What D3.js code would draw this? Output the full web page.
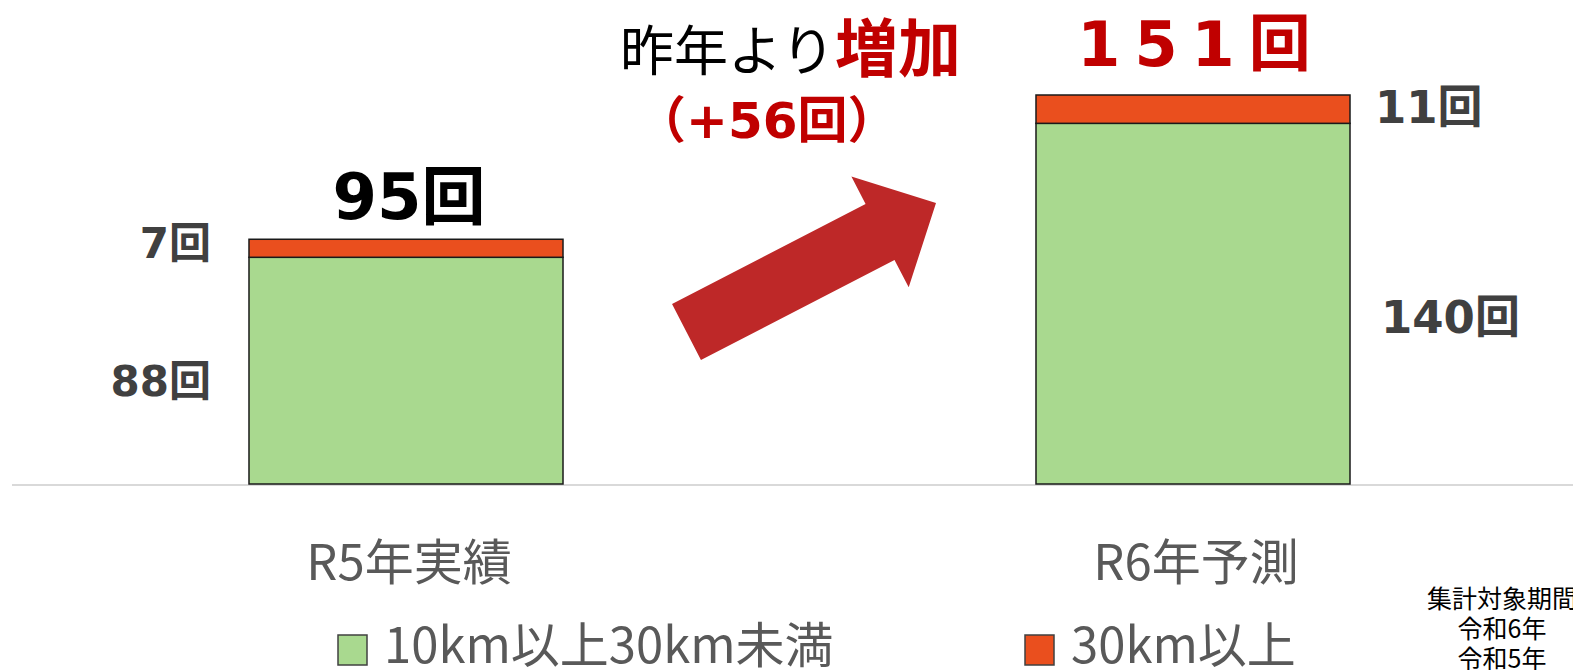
<!DOCTYPE html>
<html lang="ja">
<head>
<meta charset="utf-8">
<script src="https://cdn.jsdelivr.net/npm/d3@7"></script>
<style>
  html, body { margin: 0; padding: 0; background: #fff; overflow: hidden; }
  svg { display: block; }
</style>
</head>
<body>
<svg id="chart" width="1573" height="670"></svg>
<script>
// Yearly counts, split by distance band
const categories = ["R5年実績", "R6年予測"];
const under30 = [88, 140];   // 10km以上30km未満
const over30 = [7, 11];      // 30km以上
const seriesNames = ["10km以上30km未満", "30km以上"];
const seriesColors = ["#a9d98f", "#ea4f1e"];
const noteLines = ["集計対象期間", "令和6年", "令和5年"];

const W = 1573, H = 670;
const svg = d3.select("#chart");
svg.append("rect").attr("width", W).attr("height", H).attr("fill", "#fff");

const CJK = "'Noto Sans CJK JP', 'Noto Sans', sans-serif";
const NUM = "'DejaVu Sans', 'Noto Sans CJK JP', sans-serif";

const rows = categories.map((c, i) => ({ cat: c, under: under30[i], over: over30[i], total: under30[i] + over30[i] }));
const stack = d3.stack().keys(["under", "over"])(rows);

const x = d3.scaleBand().domain(categories).range([12.5, 1586.5]).paddingInner(0.601).paddingOuter(0.3005);
const y = d3.scaleLinear().domain([0, d3.max(rows, d => d.total)]).range([484, 95]);

// baseline
svg.append("line")
  .attr("x1", 12).attr("x2", W).attr("y1", y(0) + 1).attr("y2", y(0) + 1)
  .attr("stroke", "#d9d9d9").attr("stroke-width", 2);

// stacked bars
stack.forEach((layer, li) => {
  svg.append("g").selectAll("rect").data(layer).join("rect")
    .attr("x", d => x(d.data.cat))
    .attr("width", x.bandwidth())
    .attr("y", d => y(d[1]))
    .attr("height", d => y(d[0]) - y(d[1]))
    .attr("fill", seriesColors[li])
    .attr("stroke", "#1a1a1a")
    .attr("stroke-width", 1.5);
});

// segment value labels: left of the first bar, right of the second
stack.forEach(layer => {
  layer.forEach((d, i) => {
    const v = d[1] - d[0];
    const mid = (y(d[0]) + y(d[1])) / 2;
    const left = i === 0;
    svg.append("text")
      .attr("x", left ? x(d.data.cat) - 38 : x(d.data.cat) + x.bandwidth() + (layer.key === "under" ? 31 : 25))
      .attr("y", mid + (layer.key === "under" ? (left ? 25 : 29) : (left ? 10 : 14)))
      .attr("text-anchor", left ? "end" : "start")
      .attr("font-family", NUM)
      .attr("font-weight", "bold")
      .attr("font-size", left ? 42 : 45)
      .attr("fill", "#404040")
      .text(v + "回");
  });
});

// totals above the bars
svg.append("text")
  .attr("x", x(categories[0]) + x.bandwidth() / 2 + 3)
  .attr("y", y(rows[0].total) - 20)
  .attr("text-anchor", "middle")
  .attr("font-family", NUM).attr("font-weight", "bold").attr("font-size", 64)
  .attr("fill", "#000")
  .text(rows[0].total + "回");

svg.append("text")
  .attr("x", x(categories[1]) + x.bandwidth() / 2 + 8)
  .attr("y", y(rows[1].total) - 29)
  .attr("text-anchor", "middle")
  .attr("font-family", NUM).attr("font-weight", "bold").attr("font-size", 62)
  .attr("letter-spacing", 14)
  .attr("fill", "#c00000")
  .text(rows[1].total + "回");

// change annotation
const diff = rows[1].total - rows[0].total;
const ann = svg.append("text").attr("x", 620).attr("y", 71).attr("font-family", CJK);
ann.append("tspan").attr("font-size", 54).attr("fill", "#000").text("昨年より");
ann.append("tspan").attr("font-size", 63).attr("font-weight", "bold").attr("fill", "#c00000").text("増加");
svg.append("text")
  .attr("x", 636).attr("y", 138)
  .attr("font-family", NUM).attr("font-weight", "bold").attr("font-size", 50)
  .attr("fill", "#c00000")
  .text("（+" + diff + "回）");

// rising arrow
function arrowPath(x0, y0, x1, y1, shaftHalf, headHalf, headLen) {
  const dx = x1 - x0, dy = y1 - y0, len = Math.hypot(dx, dy);
  const ux = dx / len, uy = dy / len, nx = -uy, ny = ux;
  const bx = x1 - ux * headLen, by = y1 - uy * headLen;
  const p = (px, py, s) => [px + nx * s, py + ny * s];
  const pts = [p(x0, y0, shaftHalf), p(bx, by, shaftHalf), p(bx, by, headHalf), [x1, y1],
               p(bx, by, -headHalf), p(bx, by, -shaftHalf), p(x0, y0, -shaftHalf)];
  return d3.line()(pts) + "Z";
}
svg.append("path")
  .attr("d", arrowPath(686.5, 332, 936, 203, 31.5, 62.4, 63))
  .attr("fill", "#be2828");

// category labels
svg.append("g").selectAll("text").data(categories).join("text")
  .attr("x", d => x(d) + x.bandwidth() / 2 + 3)
  .attr("y", 580)
  .attr("text-anchor", "middle")
  .attr("font-family", CJK).attr("font-size", 49)
  .attr("fill", "#595959")
  .text(d => d);

// legend
const legendX = [338, 1025];
const lg = svg.append("g").selectAll("g").data(seriesNames).join("g")
  .attr("transform", (d, i) => `translate(${legendX[i]},0)`);
lg.append("rect")
  .attr("x", 0).attr("y", 635).attr("width", 29).attr("height", 30)
  .attr("fill", (d, i) => seriesColors[i])
  .attr("stroke", "#404040").attr("stroke-width", 1.5);
lg.append("text")
  .attr("x", 46).attr("y", 663)
  .attr("font-family", CJK).attr("font-size", 49)
  .attr("fill", "#595959")
  .text(d => d);

// period note
svg.append("g").selectAll("text").data(noteLines).join("text")
  .attr("x", 1502)
  .attr("y", (d, i) => 608 + i * 30)
  .attr("text-anchor", "middle")
  .attr("font-family", CJK).attr("font-size", 25)
  .attr("fill", "#000")
  .text(d => d);
</script>
</body>
</html>
